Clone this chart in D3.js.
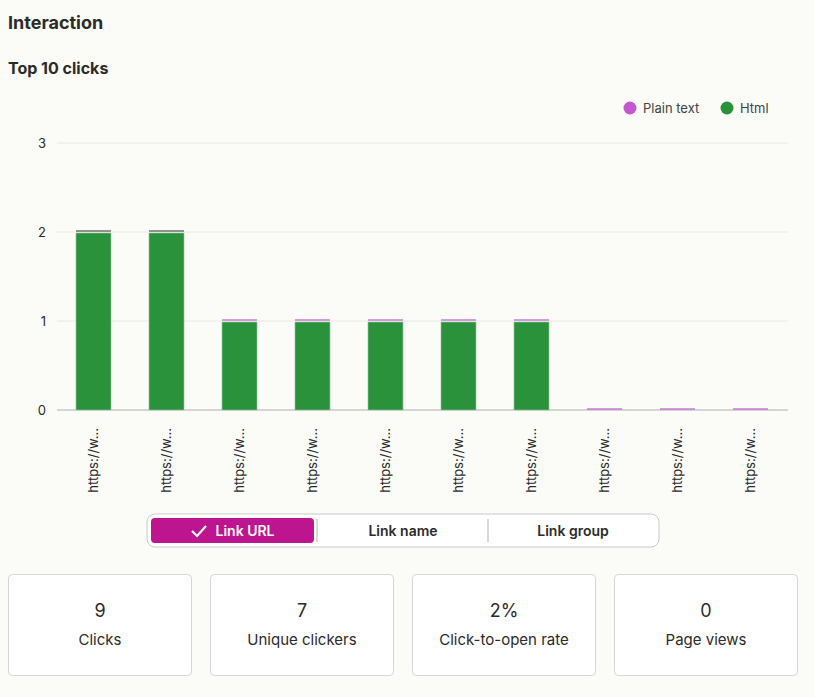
<!DOCTYPE html>
<html lang="en">
<head>
<meta charset="UTF-8">
<title>Interaction</title>
<script src="https://d3js.org/d3.v7.min.js"></script>
<style>
  body { margin: 0; background: #fbfcf7; font-family: Inter, "Noto Sans", sans-serif; }
  svg { display: block; }
</style>
</head>
<body>
<svg id="chart" width="814" height="697"></svg>
<script>
// Chart data
const links = ["https://w...", "https://w...", "https://w...", "https://w...", "https://w...",
               "https://w...", "https://w...", "https://w...", "https://w...", "https://w..."];
const htmlClicks = [2, 2, 1, 1, 1, 1, 1, 0, 0, 0];
const plainClicks = [0, 0, 0, 0, 0, 0, 0, 0, 0, 0];
const yTicks = [0, 1, 2, 3];
const toggles = ["Link URL", "Link name", "Link group"];
const statValues = ["9", "7", "2%", "0"];
const statLabels = ["Clicks", "Unique clickers", "Click-to-open rate", "Page views"];

const green = "#2a923b", purple = "#c158d0", magenta = "#bd1490", textCol = "#2b2b2b";
const svg = d3.select("#chart");

svg.append("text").attr("x", 8).attr("y", 29).attr("font-size", 18).attr("font-weight", 700)
  .attr("fill", textCol).text("Interaction");
svg.append("text").attr("x", 8).attr("y", 74).attr("font-size", 16).attr("font-weight", 700)
  .attr("fill", textCol).text("Top 10 clicks");

// Legend
const legend = [["Plain text", purple, 630], ["Html", green, 727]];
legend.forEach(([name, col, x]) => {
  svg.append("circle").attr("cx", x).attr("cy", 108).attr("r", 6.5).attr("fill", col);
  svg.append("text").attr("x", x + 13).attr("y", 112.5).attr("font-size", 13)
    .attr("fill", "#444").text(name);
});

const x = d3.scaleBand().domain(d3.range(links.length)).range([57, 787]).paddingInner(0.52).paddingOuter(0.26);
const y = d3.scaleLinear().domain([0, 3]).range([410, 143]);

// Grid
svg.append("g").selectAll("line").data(yTicks).join("line")
  .attr("x1", 57).attr("x2", 788).attr("y1", d => y(d)).attr("y2", d => y(d))
  .attr("stroke", d => d === 0 ? "#c8c8c8" : "#e8e8e6").attr("stroke-width", d => d === 0 ? 1.5 : 1);
svg.append("g").selectAll("text").data(yTicks).join("text")
  .attr("x", 46).attr("y", d => y(d) + 4.5).attr("text-anchor", "end")
  .attr("font-size", 13).attr("fill", textCol).text(d => d);

// Bars: html stacked with a thin plain-text stub on top
const g = svg.append("g");
htmlClicks.forEach((v, i) => {
  const top = y(v + plainClicks[i]);
  if (v > 0) {
    g.append("rect").attr("x", x(i)).attr("width", x.bandwidth())
      .attr("y", y(v) + 1).attr("height", y(0) - y(v) - 1).attr("fill", green)
      .attr("stroke", "#9fcaa6").attr("stroke-width", 0.6);
  }
  g.append("rect").attr("x", x(i)).attr("width", x.bandwidth())
    .attr("y", top - 2).attr("height", 2)
    .attr("fill", v >= 2 ? "#777" : purple).attr("opacity", v >= 2 ? 0.8 : 0.6);
});

// X labels
svg.append("g").selectAll("text").data(links).join("text")
  .attr("transform", (d, i) => `translate(${x(i) + x.bandwidth() / 2 + 4.5},428) rotate(-90)`)
  .attr("text-anchor", "end").attr("font-size", 13).attr("fill", textCol).text(d => d);

// Toggle
svg.append("rect").attr("x", 147).attr("y", 514).attr("width", 512).attr("height", 33)
  .attr("rx", 8).attr("fill", "#fff").attr("stroke", "#c9c9c9");
svg.append("rect").attr("x", 151).attr("y", 518).attr("width", 163).attr("height", 25)
  .attr("rx", 4).attr("fill", magenta);
[317, 488].forEach(sx => svg.append("line").attr("x1", sx).attr("x2", sx).attr("y1", 519).attr("y2", 542)
  .attr("stroke", "#ccc").attr("stroke-width", 1.5));
const tcx = [241, 403, 573];
svg.append("path").attr("d", "M192,531 l5,5 l9,-10").attr("fill", "none")
  .attr("stroke", "#fff").attr("stroke-width", 2.2);
toggles.forEach((t, i) => {
  svg.append("text").attr("x", i === 0 ? 245 : tcx[i]).attr("y", 536).attr("text-anchor", "middle")
    .attr("font-size", 14).attr("font-weight", 600).attr("fill", i === 0 ? "#fff" : textCol).text(t);
});

// Stat cards
const cardX = [8, 210, 412, 614];
cardX.forEach((cx, i) => {
  svg.append("rect").attr("x", cx + 0.5).attr("y", 574.5).attr("width", 183).attr("height", 101)
    .attr("rx", 4).attr("fill", "#fff").attr("stroke", "#d6d6d6");
  svg.append("text").attr("x", cx + 92).attr("y", 617).attr("text-anchor", "middle")
    .attr("font-size", 18).attr("fill", textCol).text(statValues[i]);
  svg.append("text").attr("x", cx + 92).attr("y", 645).attr("text-anchor", "middle")
    .attr("font-size", 15).attr("fill", textCol).text(statLabels[i]);
});
</script>
</body>
</html>
